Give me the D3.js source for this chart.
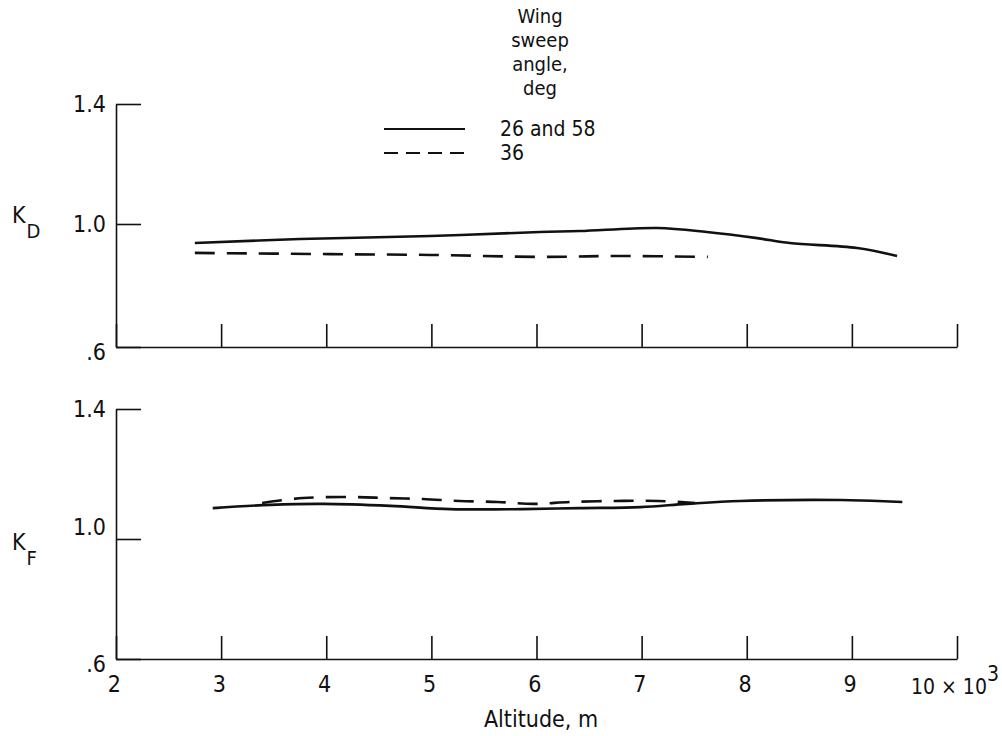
<!DOCTYPE html>
<meta charset="utf-8">
<script src="https://d3js.org/d3.v7.min.js"></script>
<style>
  body { margin: 0; background: #fff; }
  text { font-family: "DejaVu Sans Condensed", "Liberation Sans Narrow", sans-serif; fill: #111; }
</style>
<div id="chart"></div>
<script>
  // data
  var altKDsolid = [2.75, 3.75, 4.99, 6.03, 6.41, 7.15, 7.62, 8.10, 8.41, 9.05, 9.43];
  var kdSolid    = [0.938, 0.951, 0.961, 0.974, 0.977, 0.987, 0.974, 0.954, 0.938, 0.922, 0.896];
  var altKDdash  = [2.75, 4.04, 5.08, 6.03, 6.80, 7.63];
  var kdDash     = [0.906, 0.902, 0.899, 0.893, 0.896, 0.893];

  var altKFsolid = [2.92, 3.47, 3.97, 4.61, 5.18, 5.87, 6.41, 6.99, 7.43, 7.94, 8.89, 9.48];
  var kfSolid    = [1.095, 1.105, 1.108, 1.102, 1.092, 1.092, 1.095, 1.098, 1.108, 1.117, 1.120, 1.114];
  var altKFdash  = [3.39, 3.78, 4.23, 4.58, 4.92, 5.27, 5.63, 5.97, 6.32, 6.75, 7.16, 7.51];
  var kfDash     = [1.111, 1.126, 1.129, 1.126, 1.123, 1.117, 1.114, 1.108, 1.114, 1.117, 1.117, 1.111];

  var xTicks = [2, 3, 4, 5, 6, 7, 8, 9, 10];
  var yTicks = [0.6, 1.0, 1.4];
  var yTickLabels = [".6", "1.0", "1.4"];
  var legendTitle = ["Wing", "sweep", "angle,", "deg"];
  var legendLabels = ["26 and 58", "36"];

  var svg = d3.select("#chart").append("svg")
    .attr("width", 1002)
    .attr("height", 736);

  var x = d3.scaleLinear().domain([2, 10]).range([116, 957]);

  // the hand drawn axes are not quite even, so map through the three ticks
  var yTop = d3.scaleLinear().domain(yTicks).range([347, 224, 104]);
  var yBot = d3.scaleLinear().domain(yTicks).range([659, 539, 409]);

  function fmtY(d) { return yTickLabels[yTicks.indexOf(d)]; }

  function panel(y, showLabels, kSub, kY) {
    var g = svg.append("g");

    var ya = g.append("g")
      .attr("transform", "translate(116,0)")
      .call(d3.axisLeft(y).tickValues(yTicks).tickFormat(fmtY)
        .tickSizeInner(-25).tickSizeOuter(0).tickPadding(10));
    ya.selectAll("text").style("font-size", "23px");

    var xa = g.append("g")
      .attr("transform", "translate(0," + y(0.6) + ")")
      .call(d3.axisBottom(x).tickValues(xTicks)
        .tickFormat(function(d) { return (showLabels && d < 10) ? d : ""; })
        .tickSizeInner(-23).tickSizeOuter(0).tickPadding(17));
    xa.selectAll("text").style("font-size", "23px").attr("dx", "-0.1em");

    g.selectAll(".domain, .tick line")
      .attr("stroke", "#111").attr("stroke-width", 1.6);

    // K label with subscript
    var k = g.append("text").attr("x", 12).attr("y", kY).style("font-size", "23px");
    k.append("tspan").text("K");
    k.append("tspan").attr("dx", 1).attr("dy", 15).style("font-size", "20px").text(kSub);

    return g;
  }

  var gTop = panel(yTop, false, "D", 223);
  var gBot = panel(yBot, true, "F", 550);

  // nudge a couple of labels the way the drawing has them
  gTop.selectAll(".tick text").filter(function(d) { return d === 0.6; }).attr("dy", "0.55em");
  gBot.selectAll(".tick text").filter(function(d) { return d === 0.6; }).attr("dy", "0.55em");
  gBot.selectAll(".tick text").filter(function(d) { return d === 1.0; }).attr("dy", "-0.2em");

  var tenLabel = svg.append("text").attr("x", 911).attr("y", 694).style("font-size", "21px");
  tenLabel.append("tspan").text("10 \u00d7 10");
  tenLabel.append("tspan").attr("dy", -13).style("font-size", "21px").text("3");

  svg.append("text")
    .attr("x", 541).attr("y", 727)
    .attr("text-anchor", "middle")
    .style("font-size", "23px")
    .text("Altitude, m");

  function drawLine(xs, ys, y, dashed) {
    var pts = xs.map(function(d, i) { return [x(d), y(ys[i])]; });
    svg.append("path")
      .attr("d", d3.line().curve(d3.curveCatmullRom)(pts))
      .attr("fill", "none")
      .attr("stroke", "#111")
      .attr("stroke-width", 2.6)
      .attr("stroke-dasharray", dashed ? "20,12" : null);
  }

  drawLine(altKDsolid, kdSolid, yTop, false);
  drawLine(altKDdash, kdDash, yTop, true);
  drawLine(altKFsolid, kfSolid, yBot, false);
  drawLine(altKFdash, kfDash, yBot, true);

  // legend
  var leg = svg.append("g");
  leg.selectAll(".title").data(legendTitle).enter().append("text")
    .attr("x", 540)
    .attr("y", function(d, i) { return 23 + i * 24; })
    .attr("text-anchor", "middle")
    .style("font-size", "20px")
    .text(function(d) { return d; });

  leg.selectAll(".sample").data(legendLabels).enter().append("line")
    .attr("x1", 384).attr("x2", 465)
    .attr("y1", function(d, i) { return 129 + i * 24; })
    .attr("y2", function(d, i) { return 129 + i * 24; })
    .attr("stroke", "#111").attr("stroke-width", 2)
    .attr("stroke-dasharray", function(d, i) { return i ? "14,8" : null; });

  leg.selectAll(".lab").data(legendLabels).enter().append("text")
    .attr("x", 500)
    .attr("y", function(d, i) { return 136 + i * 24; })
    .style("font-size", "21px")
    .text(function(d) { return d; });
</script>
